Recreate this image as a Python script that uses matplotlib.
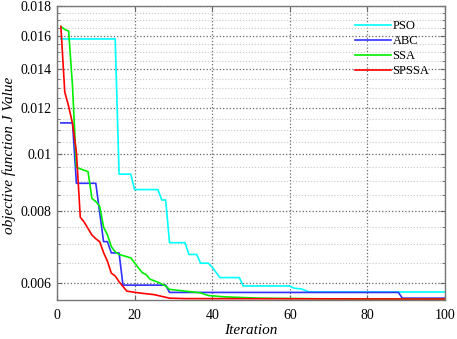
import numpy as np
import matplotlib
matplotlib.use("Agg")
import matplotlib.pyplot as plt
from matplotlib.ticker import FixedLocator, FixedFormatter, NullFormatter

plt.rcParams['font.family'] = ['Liberation Serif', 'DejaVu Serif']

# Кривые сходимости (итерация, значение J) – точки излома
pso_it = [1, 15, 16, 19, 20, 26, 27, 28, 29, 33, 34, 36, 37, 39, 40, 42, 47, 48, 60, 61, 63, 65, 100]
pso_val = [0.0158, 0.0158, 0.00925, 0.00925, 0.0087, 0.0087, 0.00835, 0.00835, 0.00705, 0.00705,
           0.00673, 0.00673, 0.0065, 0.0065, 0.0064, 0.00614, 0.00614, 0.00594, 0.00594, 0.00589,
           0.00587, 0.0058, 0.0058]

abc_it = [1, 4, 5, 10, 12, 13, 14, 16, 17, 28, 29, 88, 89, 100]
abc_val = [0.01133, 0.01133, 0.00892, 0.00892, 0.00708, 0.00708, 0.00677, 0.00677, 0.00596,
           0.00596, 0.00579, 0.00579, 0.00566, 0.00566]

ssa_it = [1, 2, 3, 4, 5, 8, 9, 10, 11, 12, 13, 14, 15, 16, 17, 19, 21, 22, 23, 24, 26, 28, 29,
          33, 37, 39, 43, 52, 75, 100]
ssa_val = [0.0166, 0.0164, 0.0163, 0.0131, 0.0095, 0.00934, 0.0084, 0.0083, 0.00814, 0.0075,
           0.00727, 0.00694, 0.0068, 0.00673, 0.0067, 0.00664, 0.00638, 0.00626, 0.00621, 0.0061,
           0.00603, 0.00594, 0.00586, 0.00582, 0.00578, 0.00572, 0.00569, 0.00566, 0.00564, 0.00564]

spssa_it = [1, 2, 3, 4, 5, 6, 7, 9, 10, 11, 12, 13, 14, 15, 16, 18, 21, 25, 27, 29, 33, 100]
spssa_val = [0.0166, 0.0128, 0.0121, 0.0113, 0.0101, 0.0078, 0.00765, 0.00727, 0.00716, 0.00708,
             0.00678, 0.00655, 0.00625, 0.00618, 0.00604, 0.00582, 0.00578, 0.00574, 0.0057,
             0.00566, 0.00565, 0.00564]

y_ticks = [0.006, 0.008, 0.01, 0.012, 0.014, 0.016, 0.018]
y_labels = ['0.006', '0.008', '0.01', '0.012', '0.014', '0.016', '0.018']
x_ticks = [0, 20, 40, 60, 80, 100]

fig = plt.figure(figsize=(4.57, 3.39), dpi=100)
ax = fig.add_axes([57 / 457, 1 - 299.5 / 339, 388 / 457, 293.5 / 339])

ax.plot(pso_it, pso_val, color='#00FFFF', lw=1.2, label='PSO')
ax.plot(abc_it, abc_val, color='#3030FF', lw=1.2, label='ABC')
ax.plot(ssa_it, ssa_val, color='#00F000', lw=1.2, label='SSA')
ax.plot(spssa_it, spssa_val, color='#FF0000', lw=1.2, label='SPSSA')

ax.set_yscale('log')
ax.set_xlim(0, 100)
ax.set_ylim(0.00563, 0.018)

ax.yaxis.set_major_locator(FixedLocator(y_ticks))
ax.yaxis.set_major_formatter(FixedFormatter(y_labels))
minor = [v for v in np.arange(0.0060, 0.01801, 0.0005)
         if min(abs(v - t) for t in y_ticks) > 1e-6]
ax.yaxis.set_minor_locator(FixedLocator(minor))
ax.yaxis.set_minor_formatter(NullFormatter())
ax.set_xticks(x_ticks)

ax.grid(True, which='major', linestyle=':', color='#666666', lw=0.9)
ax.grid(True, which='minor', axis='y', linestyle=':', color='#c8c8c8', lw=0.8)

ax.tick_params(which='both', direction='in', top=True, right=True, colors='#666666',
               labelcolor='black', labelsize=10)
ax.tick_params(which='major', length=3.5)
ax.tick_params(which='minor', length=2)
ax.tick_params(axis='x', pad=7)
ax.tick_params(axis='y', pad=4)
for s in ax.spines.values():
    s.set_color('#777777')
    s.set_linewidth(1.0)

ax.set_xlabel('Iteration', fontstyle='italic', fontsize=11, labelpad=1)
ax.set_ylabel('objective function J Value', fontstyle='italic', fontsize=11)
ax.yaxis.set_label_coords(-0.105, 0.49)

ax.legend(loc='upper left', bbox_to_anchor=(355 / 457, 1 - 20 / 339),
          bbox_transform=fig.transFigure, frameon=False, fontsize=9,
          handlelength=2.9, handletextpad=0.1, labelspacing=0.25,
          borderpad=0, borderaxespad=0)

fig.savefig('out.png', dpi=100)
